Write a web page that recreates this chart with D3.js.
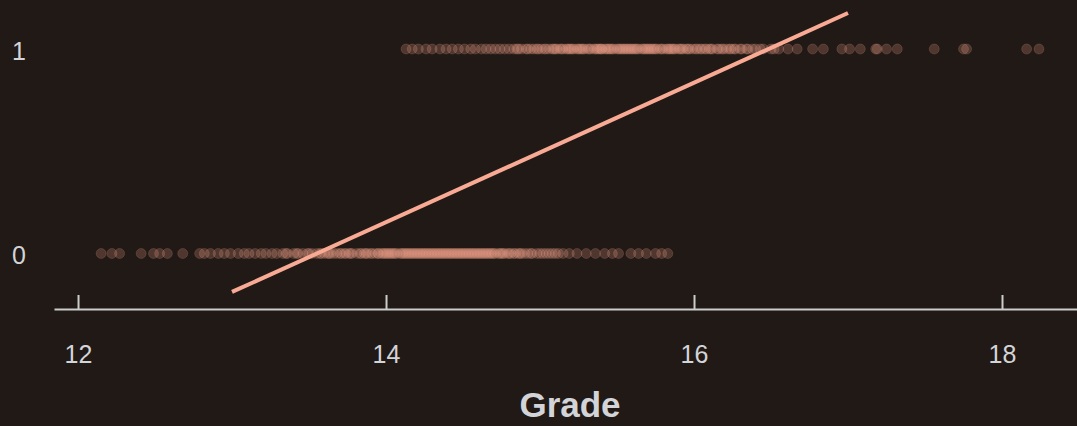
<!DOCTYPE html>
<html>
<head>
<meta charset="utf-8">
<script src="https://cdn.jsdelivr.net/npm/d3@7"></script>
<style>
  html, body { margin: 0; padding: 0; background: #211915; }
  svg { display: block; }
  text { font-family: "Liberation Sans", Arial, sans-serif; }
</style>
</head>
<body>
<svg id="chart" width="1077" height="426"></svg>
<script>
// Grades of students who failed (outcome 0)
const failGrades = [
  12.15, 12.22, 12.27, 12.41, 12.49, 12.53, 12.58, 12.68, 12.79, 12.82,
  12.86, 12.91, 12.95, 12.99, 13.04, 13.08, 13.11, 13.15, 13.19, 13.22,
  13.26, 13.29, 13.33, 13.36, 13.40, 13.43, 13.46, 13.49, 13.52, 13.55,
  13.58, 13.60, 13.63, 13.66, 13.68, 13.71, 13.73, 13.76, 13.78, 13.81,
  13.83, 13.86, 13.88, 13.90, 13.93, 13.95, 13.97, 14.00, 14.02, 14.04,
  14.06, 14.09, 14.11, 14.13, 14.15, 14.18, 14.20, 14.22, 14.25, 14.27,
  14.29, 14.32, 14.34, 14.36, 14.39, 14.41, 14.44, 14.46, 14.49, 14.51,
  14.54, 14.57, 14.60, 14.62, 14.65, 14.68, 14.71, 14.74, 14.77, 14.80,
  14.83, 14.87, 14.90, 14.94, 14.98, 15.02, 15.06, 15.10, 15.15, 15.19,
  15.24, 15.30, 15.36, 15.42, 15.47, 15.51, 15.59, 15.64, 15.69, 15.75,
  15.79, 15.83,
  13.35, 13.42, 13.50, 13.57, 13.64, 13.70, 13.77, 13.84, 13.91, 13.95,
  14.01, 14.07, 14.12, 14.17, 14.23, 14.28, 14.33, 14.38, 14.43, 14.48,
  14.53, 14.58, 14.63, 14.69, 14.75, 14.81, 14.88, 14.95, 15.04, 15.12,
  13.98, 14.03, 14.10, 14.16, 14.21, 14.26, 14.31, 14.35, 14.40, 14.45,
  14.50, 14.55, 14.59, 14.64, 14.70, 14.76, 14.84, 14.92, 14.14, 14.37,
  14.56, 14.67,
  13.62, 13.74, 13.87, 13.99, 14.05, 14.19, 14.24, 14.30, 14.42, 14.47,
  14.52, 14.61, 14.66, 14.73, 14.79, 14.86, 15.00, 15.08
];

// Grades of students who passed (outcome 1)
const passGrades = [
  14.13, 14.17, 14.21, 14.26, 14.30, 14.35, 14.39, 14.43, 14.47, 14.51,
  14.55, 14.58, 14.62, 14.65, 14.68, 14.71, 14.74, 14.77, 14.80, 14.83,
  14.86, 14.88, 14.91, 14.94, 14.96, 14.99, 15.01, 15.04, 15.06, 15.08,
  15.11, 15.13, 15.15, 15.18, 15.20, 15.22, 15.24, 15.27, 15.29, 15.31,
  15.33, 15.36, 15.38, 15.40, 15.43, 15.45, 15.47, 15.50, 15.52, 15.54,
  15.57, 15.59, 15.61, 15.64, 15.66, 15.69, 15.71, 15.74, 15.76, 15.79,
  15.82, 15.84, 15.87, 15.90, 15.93, 15.96, 15.99, 16.02, 16.05, 16.08,
  16.12, 16.15, 16.19, 16.23, 16.27, 16.31, 16.35, 16.40, 16.45, 16.50,
  16.55, 16.61, 16.67, 16.77, 16.84, 16.96, 17.01, 17.08, 17.18, 17.19,
  17.25, 17.32, 17.56, 17.75, 17.77, 18.16, 18.24,
  14.85, 14.92, 14.98, 15.03, 15.09, 15.14, 15.21, 15.26, 15.32, 15.37,
  15.42, 15.48, 15.53, 15.58, 15.63, 15.68, 15.73, 15.78, 15.85, 15.91,
  15.97, 16.04, 16.11, 16.18, 16.26, 16.34, 16.43, 16.52,
  15.17, 15.25, 15.35, 15.44, 15.51, 15.60, 15.67, 15.75, 15.83, 15.92,
  16.01, 16.10, 16.21, 16.30, 15.40, 15.56, 15.72, 15.88,
  15.10, 15.19, 15.28, 15.39, 15.46, 15.55, 15.62, 15.70, 15.80, 15.86,
  15.95, 16.07, 16.16, 16.24, 16.38
];

// Fitted straight line across the grade range
const fitX = [13, 17];
const fitY = [-0.188, 1.176];

const xTicks = [12, 14, 16, 18];
const yTicks = [0, 1];

const salmon = "#f7a58e";
const axisColor = "#cccccc";
const textColor = "#d2d4d8";

const svg = d3.select("#chart");

const x = d3.scaleLinear().domain([11.844, 18.487]).range([54, 1077]);
const y = d3.scaleLinear().domain([0, 1]).range([253.5, 49]);

// Points
const points = failGrades.map(g => ({ g, v: 0 }))
  .concat(passGrades.map(g => ({ g, v: 1 })));

svg.append("g")
  .selectAll("circle")
  .data(points)
  .join("circle")
  .attr("cx", d => x(d.g))
  .attr("cy", d => y(d.v))
  .attr("r", 5)
  .attr("fill", salmon)
  .attr("fill-opacity", 0.22)
  .attr("stroke", salmon)
  .attr("stroke-opacity", 0.16)
  .attr("stroke-width", 1);

// Fitted line
const fit = fitX.map((v, i) => [v, fitY[i]]);
svg.append("path")
  .datum(fit)
  .attr("d", d3.line().x(d => x(d[0])).y(d => y(d[1])))
  .attr("fill", "none")
  .attr("stroke", "#f9aa94")
  .attr("stroke-width", 4);

// X axis
const xAxis = svg.append("g")
  .attr("transform", "translate(0,309)")
  .call(d3.axisBottom(x)
    .tickValues(xTicks)
    .tickFormat(d3.format("d"))
    .tickSize(-14)
    .tickSizeOuter(0)
    .tickPadding(36));
xAxis.select(".domain").attr("stroke", axisColor).attr("stroke-width", 2);
xAxis.selectAll(".tick line").attr("stroke", axisColor).attr("stroke-width", 2);
xAxis.selectAll(".tick text")
  .attr("fill", textColor)
  .attr("font-size", 25)
  .attr("font-family", "'Liberation Sans', Arial, sans-serif");

// Y labels
svg.append("g")
  .selectAll("text")
  .data(yTicks)
  .join("text")
  .attr("x", 19)
  .attr("y", d => y(d) + 2)
  .attr("dy", "0.35em")
  .attr("text-anchor", "middle")
  .attr("fill", textColor)
  .attr("font-size", 25)
  .text(d => d);

// X axis title
svg.append("text")
  .attr("x", 570)
  .attr("y", 417)
  .attr("text-anchor", "middle")
  .attr("fill", textColor)
  .attr("font-size", 35)
  .attr("font-weight", "bold")
  .text("Grade");
</script>
</body>
</html>
